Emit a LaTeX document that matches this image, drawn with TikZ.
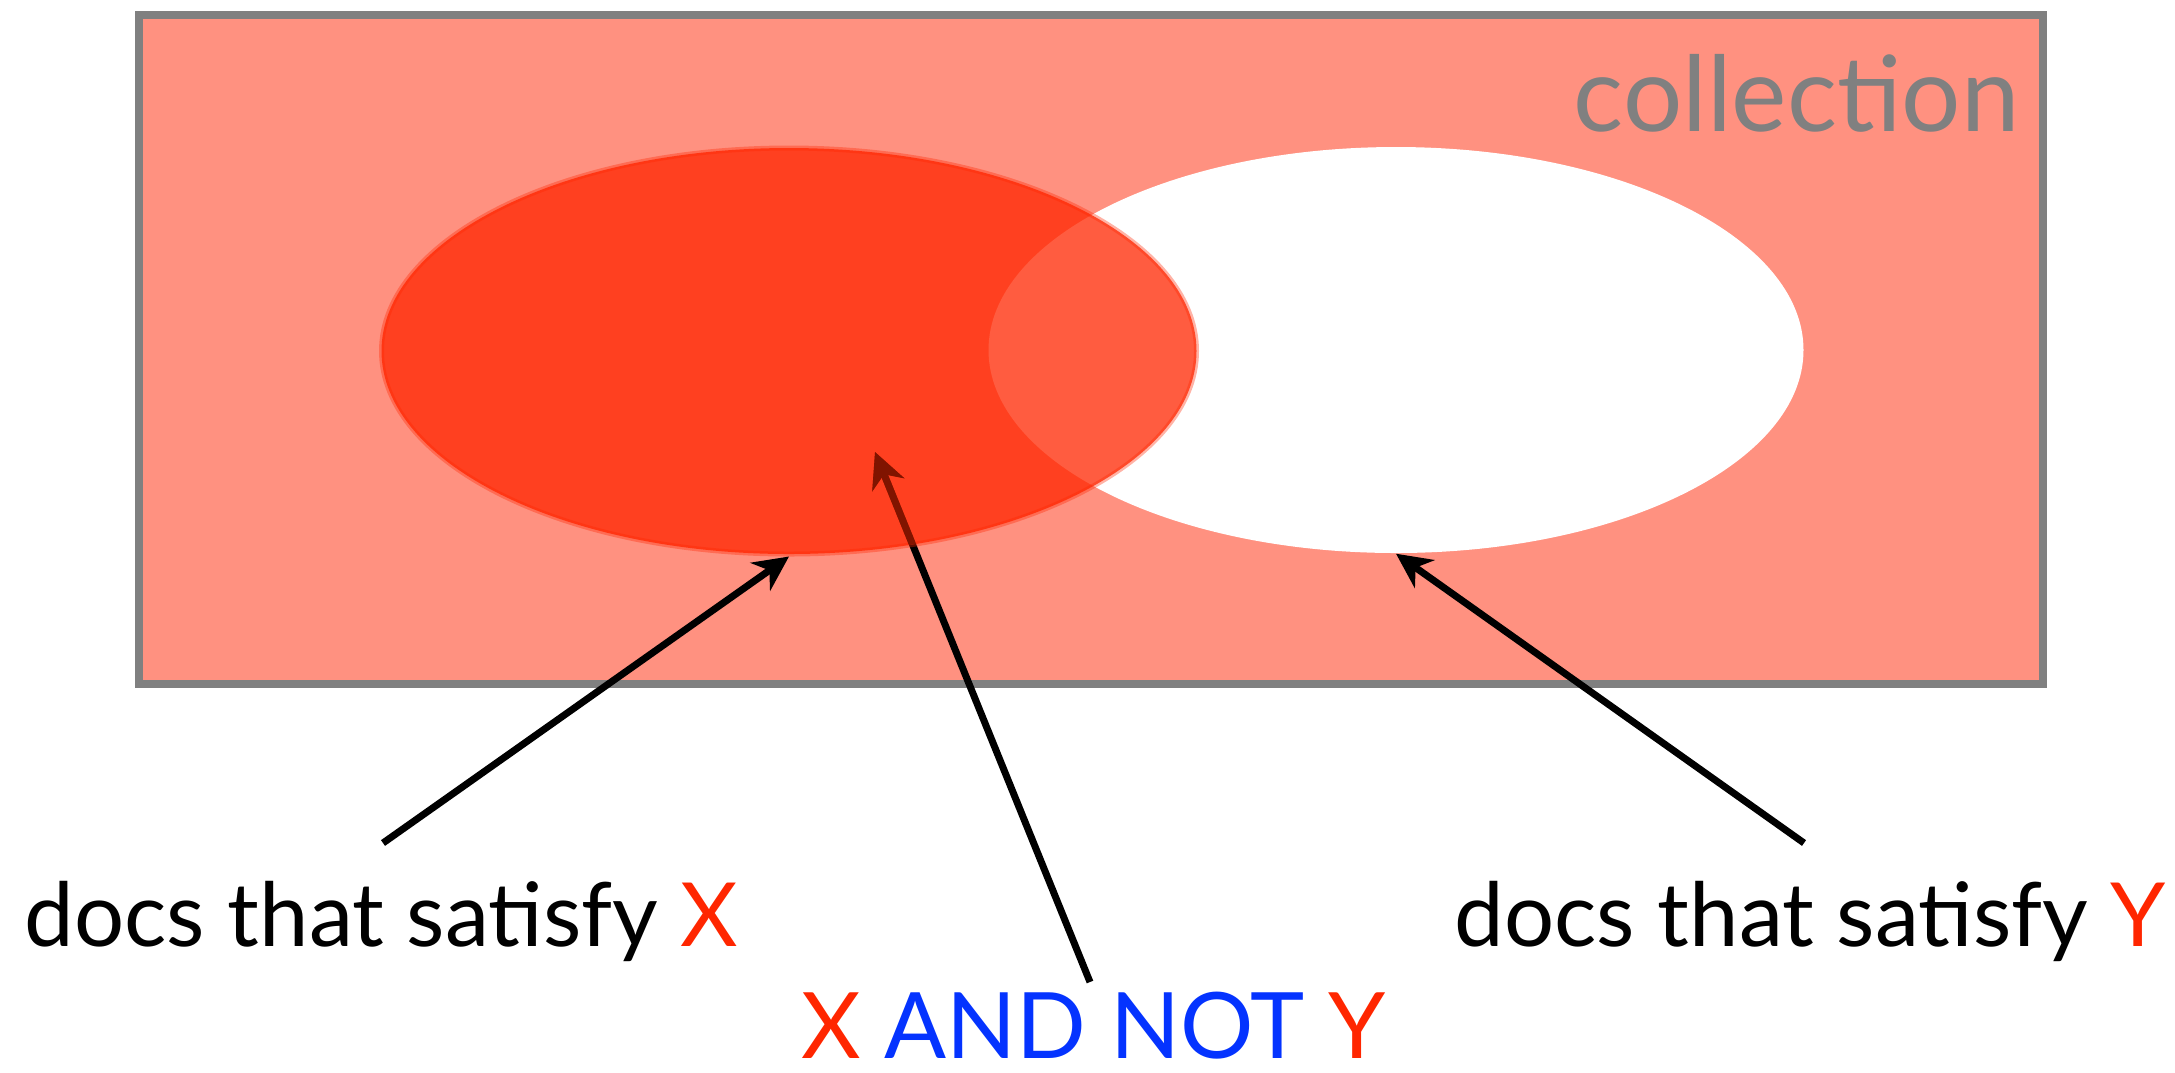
\documentclass[tikz,border=0pt]{standalone}
\usepackage{fontspec}
\setmainfont{Lato}
\usepackage{tikz}
\usetikzlibrary{graphs}
\usetikzlibrary{arrows.meta}
\usetikzlibrary{shapes.geometric}
\usepackage{xcolor}

\definecolor{collfill}{RGB}{255,145,128}
\definecolor{collgray}{RGB}{128,128,128}
\definecolor{setred}{RGB}{255,38,0}
\definecolor{keyred}{RGB}{255,38,0}
\definecolor{opblue}{RGB}{4,51,255}
\definecolor{deepred}{RGB}{128,20,0}

\begin{document}
\begin{tikzpicture}[x=0.1mm, y=-0.1mm,
        >={Stealth[length=3.5mm, width=3.4mm, inset=1.1mm]},
        arr/.style={line width=0.7mm},
        setshape/.style={ellipse, minimum width=81.5mm, minimum height=40.6mm, inner sep=0pt},
        lbl/.style={inner sep=0pt, font=\fontsize{25.2}{30}\selectfont},
        oplbl/.style={inner sep=0pt, text=opblue, font=\fontsize{26.1}{31}\selectfont},
        colllbl/.style={inner sep=0pt, text=collgray, font=\fontsize{29.8}{34}\selectfont}]
        \useasboundingbox (0,0) rectangle (2175,1072);

        % the whole collection
        \draw[fill=collfill, draw=collgray, line width=0.8mm] (138.5,15) rectangle (2043,684);
        \node[colllbl, anchor=base east] (coll) at (2020,131) {collection};

        \node[setshape, fill=white] (setY) at (1396,350) {};

        \coordinate (tailX) at (383,843);
        \coordinate (tailY) at (1804,843);
        \coordinate (tailN) at (1090,982);
        \coordinate (tipN)  at (875,452);
        \coordinate (tipY)  at (setY.south);

        \graph {(tailN) ->[arr] (tipN)};

        \node[setshape, fill=setred, fill opacity=0.75, draw=setred, draw opacity=0.35, line width=0.5mm] (setX) at (789,351) {};
        \coordinate (tipX) at (setX.south);

        % arrow seen through the red set
        \begin{scope}
            \clip (setX.center) ellipse [x radius=40.75mm, y radius=20.3mm];
            \graph {(tailN) ->[arr, deepred] (tipN)};
        \end{scope}

        \graph {(tailX) ->[arr] (tipX)};
        \graph {(tailY) ->[arr] (tipY)};

        \node[lbl, anchor=base west] (docsX) at (24,946) {docs that satisfy \textcolor{keyred}{X}};
        \node[lbl, anchor=base west] (docsY) at (1454,946) {docs that satisfy \textcolor{keyred}{Y}};
        \node[oplbl, anchor=base west] (xnoty) at (801,1058) {\textcolor{keyred}{X} AND NOT \textcolor{keyred}{Y}};
    \end{tikzpicture}
\end{document}
